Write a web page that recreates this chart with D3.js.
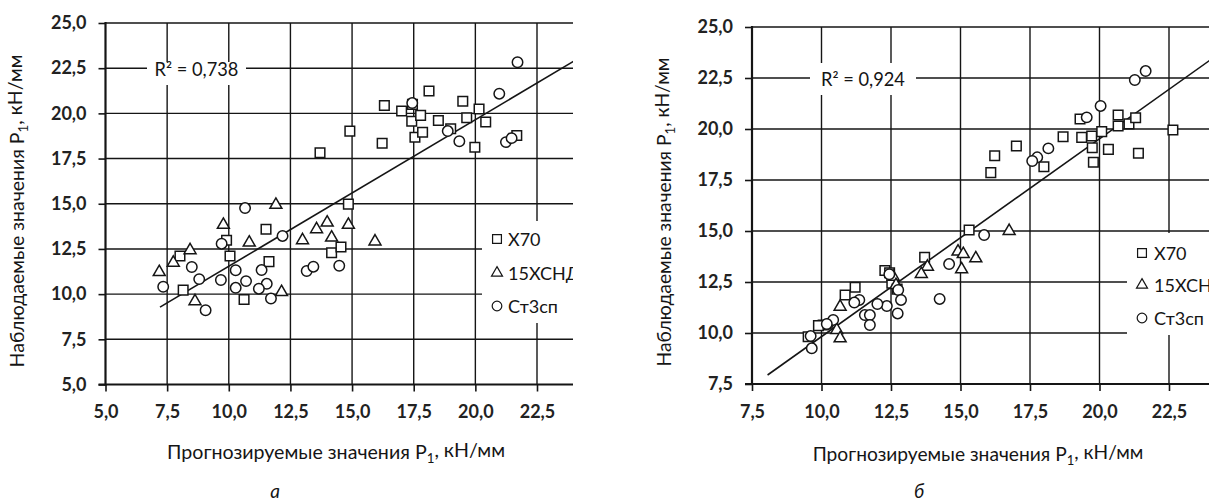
<!DOCTYPE html>
<html><head><meta charset="utf-8">
<script src="https://cdn.jsdelivr.net/npm/d3@7"></script>
<style>html,body{margin:0;padding:0;background:#fff;} svg{display:block;}</style>
</head><body>
<svg id="c" width="1209" height="503"></svg>
<script>
// ---------- data: panel а ----------
const xTicksA = [5, 7.5, 10, 12.5, 15, 17.5, 20, 22.5];
const yTicksA = [5, 7.5, 10, 12.5, 15, 17.5, 20, 22.5, 25];
const x70A = [[14.85,14.98],[11.51,13.59],[9.91,12.98],[8.02,12.11],[10.05,12.11],[11.63,11.8],[8.15,10.22],[10.62,9.70],[14.17,12.29],[14.55,12.61],
  [13.70,17.82],[14.91,19.02],[16.22,18.35],[16.31,20.44],[18.12,21.24],[17.01,20.13],[17.42,19.56],[17.78,19.89],[17.55,18.68],[17.86,18.96],
  [18.50,19.61],[19.0,19.15],[19.49,20.67],[19.65,19.76],[20.15,20.24],[20.42,19.52],[19.98,18.13],[21.68,18.78],[17.45,20.5]];
const hsndA = [[11.91,14.94],[9.78,13.83],[10.83,12.85],[8.43,12.43],[7.75,11.74],[7.18,11.22],[8.63,9.61],[12.14,10.11],[12.99,12.98],[13.56,13.59],
  [13.99,13.96],[14.17,13.13],[14.85,13.83],[15.93,12.91]];
const st3A = [[10.66,14.76],[9.71,12.79],[8.50,11.5],[8.80,10.83],[7.34,10.41],[9.68,10.78],[10.28,11.32],[10.28,10.35],[10.70,10.72],[11.33,11.33],
  [11.54,10.57],[11.22,10.3],[11.71,9.76],[9.06,9.11],[12.18,13.22],[13.16,11.28],[13.43,11.52],[14.48,11.57],
  [21.71,22.83],[20.97,21.09],[17.44,20.57],[18.88,19.02],[19.35,18.46],[21.24,18.41],[21.47,18.63]];
const fitA = [[7.21, 9.28], [24.6, 23.38]];
const r2A = "R² = 0,738";

// ---------- data: panel б ----------
const xTicksB = [7.5, 10, 12.5, 15, 17.5, 20, 22.5];
const yTicksB = [7.5, 10, 12.5, 15, 17.5, 20, 22.5, 25];
const x70B = [[15.31,15.05],[16.09,17.86],[16.23,18.69],[17.01,19.17],[18.0,18.15],[18.69,19.62],[19.30,20.49],[19.36,19.59],[19.72,19.66],[19.74,19.08],
  [19.78,18.37],[20.08,19.87],[20.32,19.0],[20.67,20.69],[20.67,20.15],[21.06,20.25],[21.30,20.55],[21.40,18.81],[22.64,19.95],
  [13.71,13.71],[12.28,13.06],[12.45,12.95],[12.53,12.44],[12.72,12.15],[11.21,12.24],[10.85,11.86],[10.06,10.39],[9.89,10.36],[9.52,9.82]];
const hsndB = [[16.75,15.0],[13.81,13.25],[13.59,12.89],[14.91,13.99],[15.1,13.87],[15.04,13.12],[15.55,13.66],[12.58,12.76],[12.68,12.35],
  [10.67,11.29],[10.55,10.15],[10.67,9.74]];
const st3B = [[21.66,22.84],[21.27,22.40],[20.04,21.13],[19.54,20.57],[18.16,19.05],[17.76,18.61],[17.58,18.43],[15.85,14.80],[14.59,13.38],[14.25,11.67],
  [12.44,12.88],[12.76,12.11],[12.86,11.62],[12.35,11.32],[12.01,11.42],[12.74,10.96],[11.36,11.62],[11.18,11.49],[11.56,10.88],[11.74,10.88],
  [11.74,10.39],[10.24,10.44],[10.42,10.64],[9.61,9.85],[9.65,9.25],[10.19,10.44]];
const fitB = [[8.06, 7.94], [24.6, 23.98]];
const r2B = "R² = 0,924";

// ---------- shared texts ----------
const seriesNames = ["Х70", "15ХСНД", "Ст3сп"];
const xTitleParts = ["Прогнозируемые значения P", "1", ", кН/мм"];
const yTitleParts = ["Наблюдаемые значения P", "1", ", кН/мм"];
const panelLetters = ["а", "б"];

// ---------- drawing ----------
const svg = d3.select("#c");
const defs = svg.append("defs");
const fmt = d3.formatLocale({decimal: ",", thousands: "\u00a0", grouping: [3], currency: ["", ""]}).format(".1f");
const FONT = "Lato, 'Open Sans', sans-serif";
const INK = "#151515";
const symTypes = [d3.symbolSquare, d3.symbolTriangle, d3.symbolCircle];
const symSizes = [92, 62, 86];

function fitWidth(sel, target) {
  const w = sel.node().getBBox().width;
  const fs = parseFloat(sel.attr("font-size"));
  sel.attr("font-size", fs * target / w);
}

function titleText(g, parts, attrs) {
  const t = g.append("text").attr("font-family", FONT).attr("fill", INK).attr("font-size", 16).attr("text-anchor", "middle");
  Object.entries(attrs).forEach(([k, v]) => t.attr(k, v));
  t.append("tspan").text(parts[0]);
  t.append("tspan").attr("font-size", "0.68em").attr("dy", "0.3em").text(parts[1]);
  t.append("tspan").attr("dy", "-0.3em").text(parts[2]);
  return t;
}

function drawPanel(p) {
  defs.append("clipPath").attr("id", "clip" + p.id)
    .append("rect").attr("x", p.clipLeft).attr("y", 0).attr("width", p.clipRight - p.clipLeft).attr("height", 503);
  const g = svg.append("g").attr("clip-path", `url(#clip${p.id})`);
  const x = d3.scaleLinear().domain(p.xDomain).range(p.xRange);
  const y = d3.scaleLinear().domain(p.yDomain).range(p.yRange);
  const x0 = p.xRange[0], yb = p.yRange[0], yt = p.yRange[1];

  // gridlines
  g.append("g").selectAll("line").data(p.yTicks.slice(1)).join("line")
    .attr("x1", x0).attr("x2", p.clipRight + 5).attr("y1", d => y(d)).attr("y2", d => y(d))
    .attr("stroke", INK).attr("stroke-width", 1.4);
  g.append("g").selectAll("line").data(p.xTicks.slice(1)).join("line")
    .attr("x1", d => x(d)).attr("x2", d => x(d)).attr("y1", yt).attr("y2", yb)
    .attr("stroke", INK).attr("stroke-width", 1.4);

  // y axis
  const ya = g.append("g").attr("transform", `translate(${x0},0)`)
    .call(d3.axisLeft(y).tickValues(p.yTicks).tickSize(7).tickSizeOuter(0).tickPadding(12).tickFormat(fmt));
  ya.select(".domain").remove();
  ya.selectAll(".tick line").attr("stroke", INK).attr("stroke-width", 1.6);
  ya.selectAll(".tick text").attr("font-family", FONT).attr("font-size", p.tickFs).attr("font-weight", 700).attr("fill", "#222");
  g.append("line").attr("x1", x0).attr("x2", x0).attr("y1", yt - 1).attr("y2", yb + 1)
    .attr("stroke", INK).attr("stroke-width", 2.2);

  // x axis
  const xa = g.append("g").attr("transform", `translate(0,${yb})`)
    .call(d3.axisBottom(x).tickValues(p.xTicks).tickSize(7).tickSizeOuter(0).tickPadding(14).tickFormat(fmt));
  xa.select(".domain").remove();
  xa.selectAll(".tick line").attr("stroke", INK).attr("stroke-width", 1.6);
  xa.selectAll(".tick text").attr("font-family", FONT).attr("font-size", p.tickFs).attr("font-weight", 700).attr("fill", "#222");
  g.append("line").attr("x1", x0 - 7).attr("x2", p.clipRight + 5).attr("y1", yb).attr("y2", yb)
    .attr("stroke", INK).attr("stroke-width", 2.2);

  // R² label
  g.append("rect").attr("x", p.r2Box[0]).attr("y", p.r2Box[1]).attr("width", p.r2Box[2]).attr("height", p.r2Box[3]).attr("fill", "#fff");
  const r2 = g.append("text").attr("x", p.r2Box[0] + p.r2Box[2] / 2).attr("y", p.r2TextY)
    .attr("text-anchor", "middle").attr("dominant-baseline", "central")
    .attr("font-family", FONT).attr("font-size", 16).attr("fill", INK).text(p.r2);
  fitWidth(r2, p.r2W);

  // regression line
  g.append("path").datum(p.fit)
    .attr("d", d3.line().x(d => x(d[0])).y(d => y(d[1])))
    .attr("fill", "none").attr("stroke", INK).attr("stroke-width", 1.6);

  // markers
  [p.s0, p.s1, p.s2].forEach((data, i) => {
    g.append("g").selectAll("path").data(data).join("path")
      .attr("transform", d => `translate(${x(d[0])},${y(d[1])})`)
      .attr("d", d3.symbol().type(symTypes[i]).size(symSizes[i]))
      .attr("fill", "#fff").attr("stroke", INK).attr("stroke-width", 1.5);
  });

  // legend
  g.append("rect").attr("x", p.legBox[0]).attr("y", p.legBox[1]).attr("width", p.legBox[2]).attr("height", p.legBox[3]).attr("fill", "#fff");
  seriesNames.forEach((name, i) => {
    const ly = p.legY[i];
    g.append("path").attr("transform", `translate(${p.legMarkX},${ly})`)
      .attr("d", d3.symbol().type(symTypes[i]).size(symSizes[i] * 0.85))
      .attr("fill", "#fff").attr("stroke", INK).attr("stroke-width", 1.2);
    g.append("text").attr("x", p.legTextX).attr("y", ly).attr("dominant-baseline", "central")
      .attr("font-family", FONT).attr("font-size", p.legFs).attr("fill", INK).text(name);
  });

  // titles
  const xt = titleText(svg, xTitleParts, {x: p.xTitle[0], y: p.xTitle[1]});
  fitWidth(xt, p.xTitleW);
  const yt2 = titleText(svg, yTitleParts, {transform: `translate(${p.yTitle[0]},${p.yTitle[1]}) rotate(-90)`});
  fitWidth(yt2, p.yTitleW);

  svg.append("text").attr("x", p.letter[0]).attr("y", p.letter[1]).attr("text-anchor", "middle")
    .attr("font-family", FONT).attr("font-style", "italic").attr("font-size", 19).attr("fill", INK).text(p.letterText);
}

drawPanel({
  id: "A", xDomain: [5, 22.5], xRange: [105.5, 537], yDomain: [5, 25], yRange: [384.5, 23],
  xTicks: xTicksA, yTicks: yTicksA, clipLeft: 0, clipRight: 573, tickFs: 18,
  s0: x70A, s1: hsndA, s2: st3A, fit: fitA, r2: r2A,
  r2Box: [147, 62, 99, 23], r2TextY: 69, r2W: 84,
  legBox: [482, 221, 140, 102], legY: [239, 273, 306], legMarkX: 497, legTextX: 508, legFs: 18,
  xTitle: [336, 459], xTitleW: 338, yTitle: [24, 211], yTitleW: 313,
  letter: [275, 498], letterText: panelLetters[0]
});
drawPanel({
  id: "B", xDomain: [7.5, 22.5], xRange: [752, 1169], yDomain: [7.5, 25], yRange: [384, 27],
  xTicks: xTicksB, yTicks: yTicksB, clipLeft: 600, clipRight: 1215, tickFs: 18,
  s0: x70B, s1: hsndB, s2: st3B, fit: fitB, r2: r2B,
  r2Box: [810, 63, 106, 32], r2TextY: 79, r2W: 84,
  legBox: [1127, 233, 120, 102], legY: [253, 285, 318], legMarkX: 1142, legTextX: 1154, legFs: 18,
  xTitle: [978, 461], xTitleW: 331, yTitle: [671, 212], yTitleW: 309,
  letter: [919, 498], letterText: panelLetters[1]
});
</script>
</body></html>
